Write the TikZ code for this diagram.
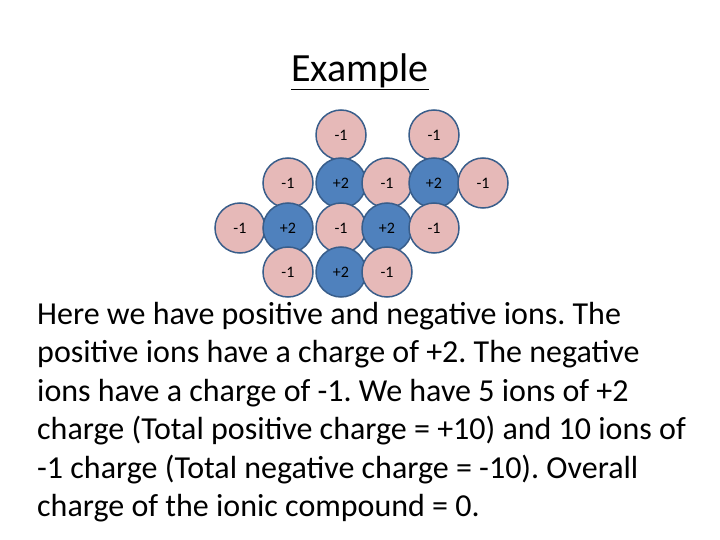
\documentclass[tikz,border=0pt]{standalone}
\usepackage{fontspec}
\setmainfont{Carlito}
\definecolor{ionpink}{RGB}{230,185,184}
\definecolor{ionblue}{RGB}{79,129,189}
\definecolor{ionedge}{RGB}{56,93,138}
\tikzset{
  negion/.style={circle, minimum size=50pt, inner sep=0pt, fill=ionpink, draw=ionedge, line width=1.5pt, font=\fontsize{16}{18}\selectfont},
  posion/.style={circle, minimum size=50pt, inner sep=0pt, fill=ionblue, draw=ionedge, line width=1.5pt, font=\fontsize{16}{18}\selectfont}
}
\begin{document}
\frenchspacing
\begin{tikzpicture}[x=1pt,y=-1pt]
        \useasboundingbox (0,0) rectangle (720,540);

        % Title
        \node (title) at (360,72) {\fontsize{40}{44}\selectfont\underline{Example}};

        % Ions, row by row
        \node[negion] (a1) at (341,135) {-1};
        \node[negion] (a2) at (434,135) {-1};

        \node[negion] (b1) at (288,183) {-1};
        \node[posion] (b2) at (341,183) {+2};
        \node[negion] (b3) at (387,183) {-1};
        \node[posion] (b4) at (434,183) {+2};
        \node[negion] (b5) at (483,183) {-1};

        \node[negion] (c1) at (240,228) {-1};
        \node[posion] (c2) at (288,228) {+2};
        \node[negion] (c3) at (341,228) {-1};
        \node[posion] (c4) at (387,228) {+2};
        \node[negion] (c5) at (434,228) {-1};

        \node[negion] (d1) at (288,272) {-1};
        \node[posion] (d2) at (341,272) {+2};
        \node[negion] (d3) at (387,272) {-1};

        % Explanation
        \node[anchor=north west, align=left, inner sep=0pt, font=\fontsize{32}{38.4}\selectfont] (text) at (37,302)
          {Here we have positive and negative ions. The\\
           positive ions have a charge of +2. The negative\\
           ions have a charge of -1. We have 5 ions of +2\\
           charge (Total positive charge = +10) and 10 ions of\\
           -1 charge (Total negative charge = -10). Overall\\
           charge of the ionic compound = 0.};
\end{tikzpicture}
\end{document}
